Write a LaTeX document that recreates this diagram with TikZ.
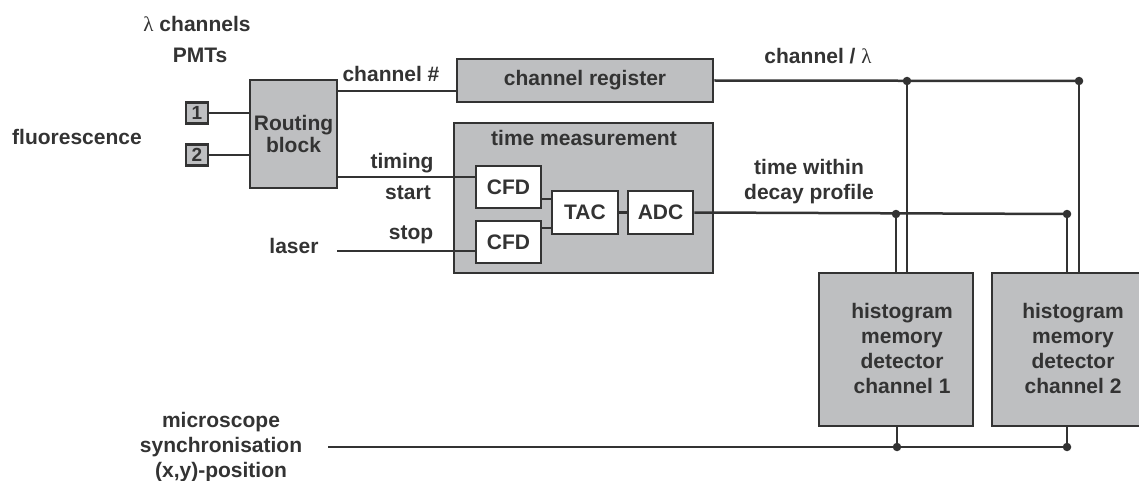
\documentclass[tikz,border=0pt]{standalone}
\usepackage{fontspec}
\setmainfont{Liberation Sans}
\newfontfamily\lamfont{Liberation Serif}
\newcommand{\lam}{{\lamfont\mdseries λ}}
\begin{document}
\begin{tikzpicture}[x=1pt,y=-1pt,
  every node/.style={font=\fontsize{21}{25}\selectfont\bfseries, text=txtc},
  box/.style={draw=linec, line width=2.5pt, fill=boxg, inner sep=0pt},
  wbox/.style={draw=linec, line width=2.5pt, fill=white, inner sep=0pt},
  conn/.style={draw=linec, line width=2.5pt},
  dot/.style={circle, fill=linec, inner sep=0pt, minimum size=8.5pt},
  lbl/.style={inner sep=0pt, align=center}
]
\definecolor{linec}{HTML}{333333}
\definecolor{txtc}{HTML}{333333}
\definecolor{boxg}{HTML}{BEBFC1}
\useasboundingbox (0,0) rectangle (1139,481);

% blocks
\node[box, minimum width=22pt, minimum height=21pt, font=\fontsize{19}{21}\selectfont\bfseries] (p1) at (197,113) {1};
\node[box, minimum width=22pt, minimum height=21pt, font=\fontsize{19}{21}\selectfont\bfseries] (p2) at (197,155) {2};
\node[box, minimum width=87pt, minimum height=108pt, align=center] (rb) at (293.5,134) {Routing\\[-3pt]block};
\node[box, minimum width=256pt, minimum height=43pt] (cr) at (585,80.5) {channel register};
\node[box, minimum width=259pt, minimum height=150pt] (tm) at (583.5,198) {};
\node[lbl] (tmlbl) at (584,138) {time measurement};
\node[wbox, minimum width=65pt, minimum height=42pt] (c1) at (508.5,187) {CFD};
\node[wbox, minimum width=65pt, minimum height=42pt] (c2) at (508.5,242) {CFD};
\node[wbox, minimum width=66pt, minimum height=43pt] (tac) at (585,212.5) {TAC};
\node[wbox, minimum width=65pt, minimum height=43pt] (adc) at (660.5,212.5) {ADC};
\node[box, minimum width=154pt, minimum height=153pt] (h1) at (896,349.5) {};
\node[box, minimum width=154pt, minimum height=153pt] (h2) at (1069,349.5) {};
\node[lbl] (h1t) at (902,348) {histogram\\memory\\detector\\channel 1};
\node[lbl] (h2t) at (1073,348) {histogram\\memory\\detector\\channel 2};

% labels
\node[lbl] (lam) at (197,24) {\lam\ channels};
\node[lbl] (pmt) at (200,55) {PMTs};
\node[lbl] (fl) at (77,137) {fluorescence};
\node[lbl] (chn) at (391,74) {channel \#};
\node[lbl] (tim) at (402,163) {timing};
\node[lbl] (sta) at (408,193) {start};
\node[lbl] (sto) at (411,235) {stop};
\node[lbl] (las) at (294,246) {laser};
\node[lbl] (chl) at (818,56) {channel / \lam};
\node[lbl] (twd) at (809,182) {time within\\decay profile};
\node[lbl] (mic) at (221,447) {microscope\\synchronisation\\(x,y)-position};

% coordinates
\coordinate (lasS) at (337,251);
\coordinate (synS) at (328,447);
\coordinate (j1) at (907,81);
\coordinate (j2) at (1079,81);
\coordinate (k1) at (896,214);
\coordinate (k2) at (1067,214);
\coordinate (m1) at (897,447);
\coordinate (m2) at (1067,447);

% connectors
\draw[conn] (p1.east) -- (p1 -| rb.west);
\draw[conn] (p2.east) -- (p2 -| rb.west);
\draw[conn] (rb.east |- 0,91) -- (cr.west |- 0,91);
\draw[conn] (rb.east |- 0,177) -- (c1.west |- 0,177);
\draw[conn] (lasS) -- (c2.west |- lasS);
\draw[conn] (c1.east |- 0,199) -- (tac.west |- 0,199);
\draw[conn] (c2.east |- 0,228) -- (tac.west |- 0,228);
\draw[conn] (tac.east) -- (adc.west);
\draw[conn] (adc.east) -- (k2);
\draw[conn] (cr.east) -- (j2);
\draw[conn] (j1) -- (j1 |- h1.north);
\draw[conn] (j2) -- (j2 |- h2.north);
\draw[conn] (k1) -- (k1 |- h1.north);
\draw[conn] (k2) -- (k2 |- h2.north);
\draw[conn] (synS) -- (m2);
\draw[conn] (m1) -- (m1 |- h1.south);
\draw[conn] (m2) -- (m2 |- h2.south);
\foreach \p in {j1,j2,k1,k2,m1,m2} \node[dot] at (\p) {};
\end{tikzpicture}
\end{document}
